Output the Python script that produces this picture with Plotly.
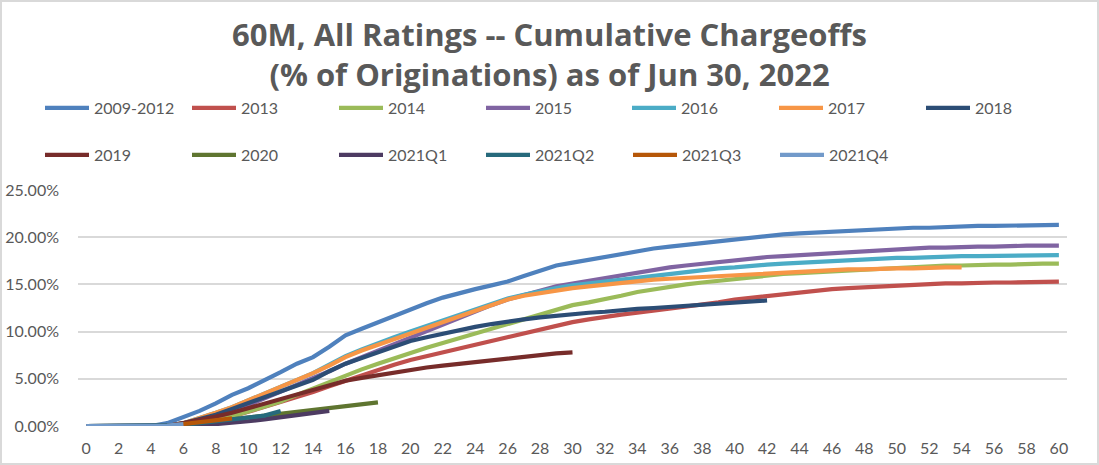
import plotly.graph_objects as go

months = list(range(0, 61))

s_2009_2012 = [0, 0, 0, 0, 0, 0.3, 0.9, 1.6, 2.4, 3.3, 4.0, 4.8, 5.7, 6.6, 7.3, 8.4, 9.6, 10.3, 11.0, 11.7,
               12.3, 13.0, 13.6, 14.1, 14.5, 14.9, 15.3, 15.9, 16.5, 17.0, 17.3, 17.6, 17.9, 18.3, 18.6, 18.8,
               19.0, 19.2, 19.4, 19.6, 19.8, 20.0, 20.2, 20.3, 20.4, 20.5, 20.6, 20.7, 20.7, 20.8, 20.9, 21.0,
               21.0, 21.1, 21.1, 21.2, 21.2, 21.2, 21.2, 21.3, 21.3]
s_2013 = [0, 0, 0, 0, 0, 0, 0, 0.3, 0.6, 1.0, 1.5, 2.0, 2.5, 3.0, 3.6, 4.2, 4.8, 5.4, 6.0, 6.5,
          7.0, 7.4, 7.9, 8.3, 8.7, 9.0, 9.4, 9.8, 10.2, 10.6, 11.0, 11.3, 11.6, 11.8, 12.0, 12.2,
          12.5, 12.7, 12.9, 13.1, 13.4, 13.6, 13.8, 14.0, 14.2, 14.3, 14.5, 14.6, 14.7, 14.8, 14.9, 15.0,
          15.0, 15.1, 15.1, 15.2, 15.2, 15.2, 15.2, 15.3, 15.3]
s_2014 = [0, 0, 0, 0, 0, 0, 0, 0.2, 0.5, 1.0, 1.5, 2.0, 2.6, 3.3, 4.0, 4.7, 5.4, 6.0, 6.6, 7.2,
          7.8, 8.3, 8.8, 9.3, 9.8, 10.3, 10.8, 11.2, 11.7, 12.2, 12.8, 13.1, 13.4, 13.8, 14.2, 14.5,
          14.8, 15.0, 15.2, 15.4, 15.6, 15.8, 15.9, 16.1, 16.2, 16.3, 16.4, 16.5, 16.6, 16.7, 16.8, 16.8,
          16.9, 17.0, 17.0, 17.1, 17.1, 17.1, 17.2, 17.2, 17.2]
s_2015 = [0, 0, 0, 0, 0, 0, 0, 0.5, 1.0, 1.6, 2.2, 2.9, 3.6, 4.3, 5.0, 5.8, 6.6, 7.3, 8.0, 8.6,
          9.3, 10.0, 10.7, 11.4, 12.1, 12.8, 13.4, 13.9, 14.4, 14.8, 15.1, 15.4, 15.7, 16.0, 16.3, 16.5,
          16.8, 17.0, 17.2, 17.4, 17.5, 17.7, 17.9, 18.0, 18.1, 18.3, 18.4, 18.5, 18.6, 18.7, 18.8, 18.8,
          18.9, 18.9, 19.0, 19.0, 19.0, 19.1, 19.1, 19.1, 19.1]
s_2016 = [0, 0, 0, 0, 0, 0, 0.3, 0.8, 1.4, 2.0, 2.7, 3.4, 4.1, 4.8, 5.6, 6.5, 7.4, 8.1, 8.8, 9.4,
          10.0, 10.6, 11.2, 11.8, 12.4, 13.0, 13.5, 13.9, 14.3, 14.6, 14.9, 15.1, 15.3, 15.6, 15.8, 16.0,
          16.2, 16.4, 16.5, 16.7, 16.8, 17.0, 17.1, 17.2, 17.3, 17.4, 17.5, 17.6, 17.7, 17.7, 17.8, 17.8,
          17.9, 17.9, 18.0, 18.0, 18.0, 18.1, 18.1, 18.1, 18.1]
s_2017 = [0, 0, 0, 0, 0, 0, 0.3, 0.8, 1.4, 2.0, 2.7, 3.4, 4.1, 4.8, 5.6, 6.4, 7.3, 8.0, 8.6, 9.2,
          9.8, 10.4, 11.0, 11.6, 12.2, 12.8, 13.4, 13.8, 14.1, 14.4, 14.6, 14.8, 15.0, 15.2, 15.4, 15.5,
          15.6, 15.7, 15.8, 15.9, 16.0, 16.1, 16.2, 16.3, 16.4, 16.5, 16.5, 16.6, 16.6, 16.7, 16.7, 16.7,
          16.8, 16.8, 16.8]
s_2018 = [0, 0, 0, 0, 0, 0, 0.3, 0.7, 1.2, 1.8, 2.4, 3.0, 3.6, 4.2, 4.9, 5.8, 6.6, 7.2, 7.8, 8.4,
          9.0, 9.4, 9.8, 10.2, 10.5, 10.8, 11.1, 11.3, 11.5, 11.7, 11.9, 12.0, 12.1, 12.3, 12.4, 12.5,
          12.6, 12.7, 12.9, 13.0, 13.1, 13.2, 13.3]
s_2019 = [0, 0, 0, 0, 0, 0, 0.3, 0.6, 1.0, 1.4, 1.9, 2.3, 2.8, 3.3, 3.8, 4.3, 4.8, 5.1, 5.4, 5.7,
          6.0, 6.2, 6.4, 6.6, 6.8, 7.0, 7.1, 7.3, 7.5, 7.7, 7.8]
s_2020 = [0, 0, 0, 0, 0, 0, 0.1, 0.3, 0.5, 0.7, 0.9, 1.1, 1.3, 1.5, 1.7, 1.9, 2.1, 2.3, 2.5]
s_2021q1 = [0, 0, 0, 0, 0, 0, 0.05, 0.1, 0.2, 0.3, 0.5, 0.7, 0.9, 1.1, 1.3, 1.6]
s_2021q2 = [0, 0, 0, 0, 0, 0, 0.1, 0.3, 0.5, 0.7, 0.9, 1.1, 1.6]
s_2021q3 = [0, 0, 0, 0, 0, 0, 0.2, 0.4, 0.6, 0.8]
s_2021q4 = [0, 0, 0, 0, 0, 0.05, 0.2]

series_names = ["2009-2012", "2013", "2014", "2015", "2016", "2017", "2018",
                "2019", "2020", "2021Q1", "2021Q2", "2021Q3", "2021Q4"]
series_values = [s_2009_2012, s_2013, s_2014, s_2015, s_2016, s_2017, s_2018,
                 s_2019, s_2020, s_2021q1, s_2021q2, s_2021q3, s_2021q4]
colors = ["#4F81BD", "#C0504D", "#9BBB59", "#8064A2", "#4BACC6", "#F79646", "#2C4D75",
          "#772C2A", "#5F7530", "#4D3B62", "#276A7C", "#B65708", "#729ACA"]

x_ticks = list(range(0, 61, 2))
y_ticks = [0, 5, 10, 15, 20, 25]
y_tick_labels = [f"{v:.2f}%" for v in y_ticks]

title_text = "60M, All Ratings -- Cumulative Chargeoffs<br>(% of Originations) as of Jun 30, 2022"

# legend groups: row 1 split into two blocks, row 2 one block
legend_of = ["legend"] * 4 + ["legend3"] * 3 + ["legend2"] * 6

fig = go.Figure()
for name, vals, col, lg in zip(series_names, series_values, colors, legend_of):
    fig.add_trace(go.Scatter(
        x=months[:len(vals)], y=vals, name=name, mode="lines",
        line=dict(color=col, width=4.2),
        legend=lg,
    ))

FONT = "Lato, 'Open Sans', sans-serif"
W, H = 1099, 465
L, R, T, B = 78, 32, 190, 39

leg_common = dict(orientation="h", entrywidth=88, entrywidthmode="pixels", itemwidth=44,
                  font=dict(family=FONT, size=16, color="#595959"),
                  bgcolor="rgba(0,0,0,0)", xref="container", yref="container",
                  xanchor="left", yanchor="middle", itemclick=False, itemdoubleclick=False)

fig.update_layout(
    width=W, height=H,
    margin=dict(l=L, r=R, t=T, b=B, autoexpand=False),
    paper_bgcolor="white", plot_bgcolor="white",
    title=dict(text=title_text, x=0.5, xref="container", xanchor="center",
               y=1 - 46 / H, yref="container", yanchor="middle",
               font=dict(family="'Open Sans', sans-serif", size=31, color="#595959", weight="bold")),
    legend=dict(x=40 / W, y=1 - 108 / H, **leg_common),
    legend3=dict(x=627 / W, y=1 - 108 / H, **leg_common),
    legend2=dict(x=40 / W, y=1 - 155 / H, **leg_common),
    xaxis=dict(range=[-0.5, 60.5], tickvals=x_ticks, showgrid=False, zeroline=False,
               showline=False, ticks="", ticklabelstandoff=11, automargin=False,
               tickfont=dict(family=FONT, size=16, color="#595959")),
    yaxis=dict(range=[0, 25], tickvals=y_ticks, ticktext=y_tick_labels,
               showgrid=True, gridcolor="#D9D9D9", gridwidth=1.5, zeroline=False,
               showline=False, ticks="", ticklabelstandoff=18, automargin=False,
               tickfont=dict(family=FONT, size=16, color="#595959")),
    showlegend=True,
)

# chart border
pw, ph = W - L - R, H - T - B
fig.add_shape(type="rect", xref="paper", yref="paper",
              x0=(1 - L) / pw, x1=(W - 1 - L) / pw,
              y0=-(B - 1) / ph, y1=(H - B - 1) / ph,
              line=dict(color="#D9D9D9", width=2), fillcolor="rgba(0,0,0,0)", layer="below")

fig.write_html("out.html", config={"displayModeBar": False},
               post_script="document.body.style.margin='0';")
